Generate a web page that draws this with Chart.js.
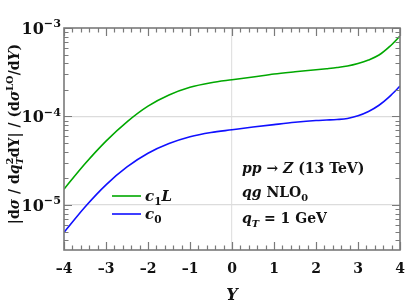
<!DOCTYPE html>
<html>
<head>
<meta charset="utf-8">
<script src="https://cdn.jsdelivr.net/npm/chart.js@4/dist/chart.umd.min.js"></script>
<style>
  body { margin: 0; background: #fff; }
  #wrap { width: 405px; height: 305px; }
</style>
</head>
<body>
<div id="wrap"><canvas id="chart" width="405" height="305"></canvas></div>
<script>
const rapidity = [-4, -3.5, -3, -2.5, -2, -1.5, -1, -0.5, 0, 0.5, 1, 1.5, 2, 2.25, 2.5, 2.75, 3, 3.25, 3.5, 3.75, 4];
const c1L = [1.51e-5, 2.92e-5, 5.27e-5, 8.71e-5, 1.31e-4, 1.75e-4, 2.14e-4, 2.41e-4, 2.6e-4, 2.79e-4, 3.02e-4, 3.2e-4, 3.37e-4, 3.47e-4, 3.58e-4, 3.72e-4, 3.97e-4, 4.35e-4, 4.95e-4, 6.15e-4, 8.1e-4];
const c0 = [4.9e-6, 9.5e-6, 1.69e-5, 2.69e-5, 3.84e-5, 4.94e-5, 5.9e-5, 6.59e-5, 7.08e-5, 7.6e-5, 8.1e-5, 8.6e-5, 9.0e-5, 9.12e-5, 9.25e-5, 9.5e-5, 1.02e-4, 1.14e-4, 1.34e-4, 1.68e-4, 2.2e-4];
const xTickLabels = ['–4', '–3', '–2', '–1', '0', '1', '2', '3', '4'];
const yTickLabels = ['−5', '−4', '−3'];

const GREEN = '#00a800';
const BLUE = '#1010ff';
const FONT = '"DejaVu Serif", "Liberation Serif", serif';
const TXT = '#111';

function pts(ys) {
  return rapidity.map((x, i) => ({ x: x, y: ys[i] }));
}

function font(p, sz) {
  return (p.i ? 'italic ' : '') + 'bold ' + sz + 'px ' + FONT;
}

// draws text with italic parts, superscripts and subscripts
function rich(ctx, parts, x, y, size, align) {
  const small = size * 0.7;
  const widths = parts.map((p) => {
    if (p.sup !== undefined) {
      ctx.font = font(p, small);
      return Math.max(ctx.measureText(p.sup).width, ctx.measureText(p.sub).width);
    }
    ctx.font = font(p, p.s ? small : size);
    return ctx.measureText(p.t).width;
  });
  const total = widths.reduce((a, b) => a + b, 0);
  let cx = align === 'right' ? x - total : align === 'center' ? x - total / 2 : x;
  ctx.textAlign = 'left';
  ctx.textBaseline = 'alphabetic';
  parts.forEach((p, k) => {
    if (p.sup !== undefined) {
      ctx.font = font(p, small);
      ctx.fillText(p.sup, cx, y - size * 0.42);
      ctx.font = font({ i: true }, small);
      ctx.fillText(p.sub, cx, y + size * 0.25);
    } else if (p.s === 'sup') {
      ctx.font = font(p, small);
      ctx.fillText(p.t, cx, y - size * 0.42);
    } else if (p.s === 'sub') {
      ctx.font = font(p, small);
      ctx.fillText(p.t, cx, y + size * 0.25);
    } else {
      ctx.font = font(p, size);
      ctx.fillText(p.t, cx, y);
    }
    cx += widths[k];
  });
}

const decorations = {
  id: 'decorations',
  afterDraw(chart) {
    const ctx = chart.ctx;
    const a = chart.chartArea;
    const xs = chart.scales.x;
    const ys = chart.scales.y;
    ctx.save();

    // inward ticks on all four sides
    ctx.strokeStyle = '#7a7a7a';
    ctx.lineWidth = 1.2;
    ctx.beginPath();
    for (let i = 0; i <= 40; i++) {
      const v = -4 + i * 0.2;
      const px = Math.round(xs.getPixelForValue(v)) + 0.5;
      const len = i % 5 === 0 ? 8 : 4.5;
      ctx.moveTo(px, a.bottom); ctx.lineTo(px, a.bottom - len);
      ctx.moveTo(px, a.top); ctx.lineTo(px, a.top + len);
    }
    for (let n = -6; n <= -3; n++) {
      for (let k = 1; k <= 9; k++) {
        const v = k * Math.pow(10, n);
        if (v < ys.min || v > ys.max * 1.0001) continue;
        const py = Math.round(ys.getPixelForValue(v)) + 0.5;
        const len = k === 1 ? 8 : 4.5;
        ctx.moveTo(a.left, py); ctx.lineTo(a.left + len, py);
        ctx.moveTo(a.right, py); ctx.lineTo(a.right - len, py);
      }
    }
    ctx.stroke();

    // frame
    ctx.lineWidth = 1.6;
    ctx.strokeRect(a.left, a.top, a.right - a.left, a.bottom - a.top);

    ctx.fillStyle = TXT;

    // x tick labels
    xTickLabels.forEach((lab, i) => {
      rich(ctx, [{ t: lab }], xs.getPixelForValue(-4 + i), 273, 14, 'center');
    });

    // y tick labels
    yTickLabels.forEach((lab, i) => {
      const py = ys.getPixelForValue(Math.pow(10, -5 + i));
      rich(ctx, [{ t: '10' }, { t: lab, s: 'sup' }], 61, py + 6, 16, 'right');
    });

    // axis titles
    rich(ctx, [{ t: 'Y', i: true }], (a.left + a.right) / 2, 300, 16, 'center');
    ctx.save();
    ctx.translate(19, 134);
    ctx.rotate(-Math.PI / 2);
    rich(ctx, [
      { t: '|d' }, { t: 'σ', i: true }, { t: ' / d' }, { t: 'q', i: true },
      { sup: '2', sub: 'T' }, { t: 'dY| / (d' }, { t: 'σ', i: true },
      { t: 'LO', s: 'sup' }, { t: '/d' }, { t: 'Y', i: true }, { t: ')' }
    ], 0, 0, 14, 'center');
    ctx.restore();

    // legend
    ctx.lineWidth = 1.6;
    [[GREEN, 196, [{ t: 'c', i: true }, { t: '1', s: 'sub' }, { t: 'L', i: true }]],
     [BLUE, 214, [{ t: 'c', i: true }, { t: '0', s: 'sub' }]]].forEach(([col, y, parts]) => {
      ctx.strokeStyle = col;
      ctx.beginPath();
      ctx.moveTo(112, y); ctx.lineTo(141, y);
      ctx.stroke();
      rich(ctx, parts, 145, y + 5, 15, 'left');
    });

    // process annotation
    rich(ctx, [{ t: 'pp', i: true }, { t: ' → ' }, { t: 'Z', i: true }, { t: ' (13 TeV)' }], 242, 173, 14, 'left');
    rich(ctx, [{ t: 'qg', i: true }, { t: ' NLO' }, { t: '0', s: 'sub' }], 242, 197, 14, 'left');
    rich(ctx, [{ t: 'q', i: true }, { t: 'T', i: true, s: 'sub' }, { t: ' = 1 GeV' }], 242, 223, 14, 'left');

    ctx.restore();
  }
};

new Chart(document.getElementById('chart'), {
  type: 'line',
  data: {
    datasets: [
      {
        label: 'c1L',
        data: pts(c1L),
        borderColor: GREEN,
        borderWidth: 1.6,
        pointRadius: 0,
        cubicInterpolationMode: 'monotone',
      },
      {
        label: 'c0',
        data: pts(c0),
        borderColor: BLUE,
        borderWidth: 1.6,
        pointRadius: 0,
        cubicInterpolationMode: 'monotone',
      },
    ],
  },
  options: {
    responsive: false,
    animation: false,
    layout: { padding: { top: 28, right: 5, left: 0, bottom: 0 } },
    plugins: { legend: { display: false }, tooltip: { enabled: false } },
    scales: {
      x: {
        type: 'linear',
        min: -4,
        max: 4,
        ticks: { display: false, stepSize: 1 },
        border: { display: false },
        grid: {
          drawTicks: false,
          color: (c) => (c.tick && Math.abs(c.tick.value) < 1e-9 ? '#e2e2e2' : 'transparent'),
          lineWidth: 1.2,
        },
        afterFit: (s) => { s.height = 55; },
      },
      y: {
        type: 'logarithmic',
        min: 3.1e-6,
        max: 1e-3,
        ticks: { display: false },
        border: { display: false },
        grid: {
          drawTicks: false,
          color: (c) => {
            const v = c.tick ? c.tick.value : 0;
            return Math.abs(v - 1e-4) < 1e-9 || Math.abs(v - 1e-5) < 1e-10 ? '#dcdcdc' : 'transparent';
          },
          lineWidth: 1.2,
        },
        afterFit: (s) => { s.width = 64; },
      },
    },
  },
  plugins: [decorations],
});
</script>
</body>
</html>
